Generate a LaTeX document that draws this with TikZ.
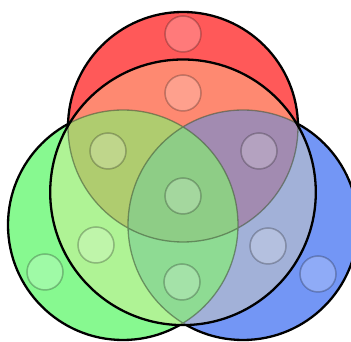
\documentclass[tikz,border=0pt]{standalone}
\usepackage{tikz}
\usetikzlibrary{positioning}

\definecolor{setred}{RGB}{255,0,0}
\definecolor{setgreen}{RGB}{71,247,86}
\definecolor{setblue}{RGB}{40,94,240}
\definecolor{veil}{RGB}{253,232,160}
\definecolor{innerrim}{RGB}{70,90,60}

\begin{document}
\begin{tikzpicture}[x=1pt,y=1pt]
  \tikzstyle{set}=[fill opacity=0.65]
  \tikzstyle{rim}=[draw=black,line width=2.3pt]
  \tikzstyle{elem}=[circle,minimum size=36pt,inner sep=0pt,line width=1.5pt,draw=black,draw opacity=0.25,fill=white,fill opacity=0.2]
  \useasboundingbox (0,0) rectangle (351,342);
  \fill[white] (0,0) rectangle (351,342);

  \coordinate (cr) at (183,215);
  \coordinate (cg) at (123,117);
  \coordinate (cb) at (243,117);
  \coordinate (cu) at (183,149.7);

  % the three sets
  \fill[set,fill=setred] (cr) circle (115);
  \fill[set,fill=setblue] (cb) circle (115);
  \fill[set,fill=setgreen] (cg) circle (115);

  % big circle through the outer crossings
  \fill[veil,fill opacity=0.34] (cu) circle (132.8);

  % set rims: black outside, faint inside
  \begin{scope}
    \clip (-10,-10) -- (-10,360) -- (370,360) -- (370,-10) -- cycle (cu) circle (132.8);
    \draw[rim] (cr) circle (115) (cg) circle (115) (cb) circle (115);
  \end{scope}
  \begin{scope}
    \clip (cu) circle (132.8);
    \draw[innerrim,line width=1.3pt,draw opacity=0.6] (cr) circle (115) (cg) circle (115) (cb) circle (115);
  \end{scope}
  \draw[rim] (cu) circle (132.8);

  % elements
  \node[elem] (e1) at (183,308) {};
  \node[elem] (e2) at (183,249) {};
  \node[elem] (e3) at (108,191) {};
  \node[elem] (e4) at (259,191) {};
  \node[elem] (e5) at (183,146) {};
  \node[elem] (e6) at (96,97) {};
  \node[elem] (e7) at (268,96) {};
  \node[elem] (e8) at (45,70) {};
  \node[elem] (e9) at (318,68) {};
  \node[elem] (e10) at (182,60) {};
\end{tikzpicture}
\end{document}
